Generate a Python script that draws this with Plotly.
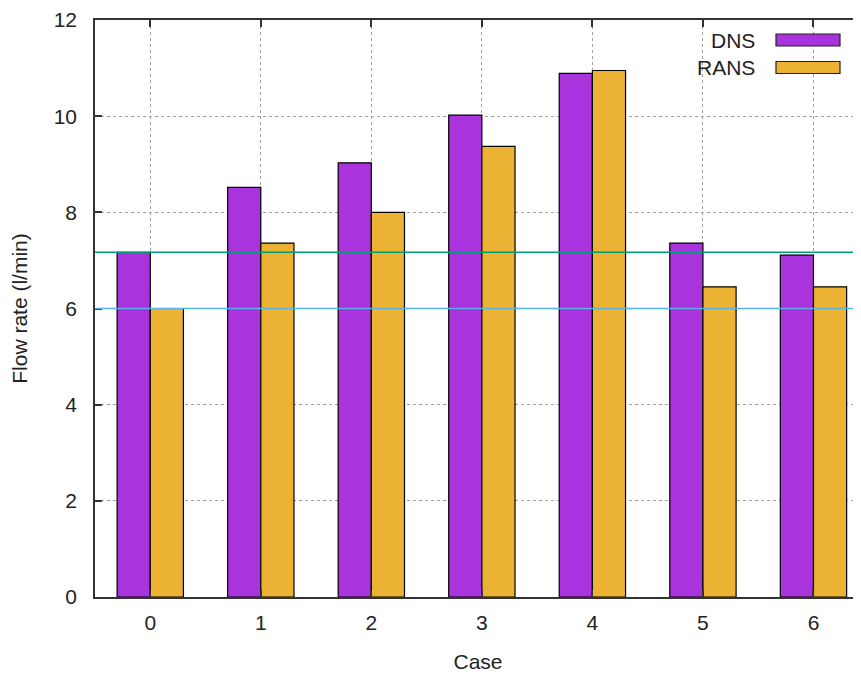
import plotly.graph_objects as go

cases = [0, 1, 2, 3, 4, 5, 6]
dns = [7.17, 8.52, 9.03, 10.02, 10.89, 7.36, 7.11]
rans = [6.0, 7.36, 8.0, 9.37, 10.95, 6.45, 6.45]
ref_dns = 7.17
ref_rans = 6.0
y_ticks = [0, 2, 4, 6, 8, 10, 12]

c_dns = "#A933DC"
c_rans = "#EBB233"
font = "Liberation Sans, Arial, sans-serif"

fig = go.Figure()
fig.add_trace(go.Bar(x=cases, y=dns, name="DNS", marker=dict(color=c_dns, line=dict(color="black", width=1.2))))
fig.add_trace(go.Bar(x=cases, y=rans, name="RANS", marker=dict(color=c_rans, line=dict(color="black", width=1.2))))

for val, col in [(ref_dns, "#009E73"), (ref_rans, "#56B4E9")]:
    fig.add_shape(type="line", xref="paper", yref="y", x0=0, x1=1, y0=val, y1=val,
                  line=dict(color=col, width=1.5), layer="above")

# gnuplot-style legend (text left of sample box)
for i, (name, col) in enumerate([("DNS", c_dns), ("RANS", c_rans)]):
    yc = 1 - (20 + 27.5 * i) / 577
    fig.add_annotation(xref="paper", yref="paper", x=(757 - 95) / 766, y=yc, text=name,
                       showarrow=False, xanchor="right", yanchor="middle",
                       font=dict(family=font, size=21, color="#222"))
    fig.add_shape(type="rect", xref="paper", yref="paper",
                  x0=(776 - 95) / 766, x1=(840 - 95) / 766,
                  y0=yc - 6 / 577, y1=yc + 6 / 577,
                  fillcolor=col, line=dict(color="#222", width=1.2), layer="above")

fig.update_layout(
    width=853, height=669,
    margin=dict(l=87, r=0, t=12, b=80),
    paper_bgcolor="white", plot_bgcolor="white",
    barmode="group", bargap=0.4, bargroupgap=0,
    showlegend=False,
    font=dict(family=font, size=21, color="#222"),
)
fig.update_xaxes(
    range=[-0.5, 6.43], tickvals=cases, ticktext=[str(c) for c in cases],
    showgrid=True, gridcolor="#a0a0a0", griddash="dot", gridwidth=1,
    showline=True, linecolor="#333", linewidth=1.5, mirror="ticks",
    ticks="inside", ticklen=7, tickcolor="#333", tickwidth=1.5,
    ticklabelstandoff=6,
    title=dict(text="Case", standoff=21, font=dict(size=21)),
    zeroline=False, fixedrange=True,
)
fig.update_yaxes(
    range=[0, 12], tickvals=y_ticks,
    showgrid=True, gridcolor="#a0a0a0", griddash="dot", gridwidth=1,
    showline=True, linecolor="#333", linewidth=1.5,
    ticks="inside", ticklen=7, tickcolor="#333", tickwidth=1.5,
    ticklabelstandoff=12,
    title=dict(text="Flow rate (l/min)", standoff=20, font=dict(size=21)),
    zeroline=False, fixedrange=True,
)
fig.write_html("out.html")
